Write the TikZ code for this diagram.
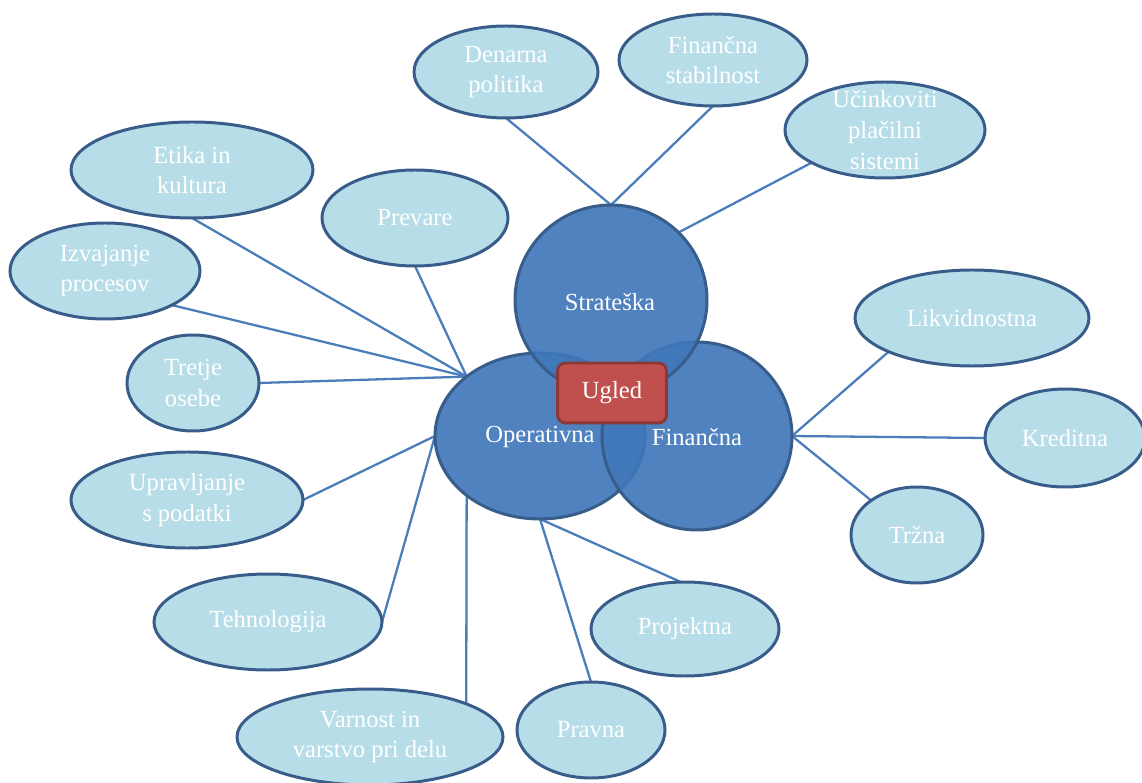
\documentclass[tikz,border=0pt]{standalone}
\usepackage{fontspec}
\setmainfont{Liberation Serif}
\usetikzlibrary{shapes.geometric,backgrounds}
\definecolor{riskfill}{HTML}{4077B8}
\definecolor{riskedge}{HTML}{385D8A}
\definecolor{leaffill}{HTML}{B7DDE8}
\definecolor{linkblue}{HTML}{4A7EBB}
\definecolor{ugledfill}{HTML}{C0504D}
\definecolor{uglededge}{HTML}{8C3836}
\begin{document}
\begin{tikzpicture}[x=0.02cm,y=-0.02cm,
  font=\fontsize{14pt}{17.5pt}\selectfont,
  oval/.style 2 args={ellipse, inner sep=0pt, outer sep=0pt,
    minimum width=2*#1*0.02cm, minimum height=2*#2*0.02cm},
  leaf/.style 2 args={oval={#1}{#2}, draw=riskedge, line width=1.7pt, fill=leaffill},
  area/.style 2 args={oval={#1}{#2}, draw=riskedge, line width=1.7pt,
    fill=riskfill, fill opacity=0.92, text opacity=1, text=white},
  txt/.style={label={[text=white, align=center]center:#1}},
  link/.style={draw=linkblue, line width=1.3pt}]
\useasboundingbox (0,0) rectangle (1142,783);

% the three main risk areas
\node[area={105}{83}] (op) at (540,436) {};
\node[area={95}{94}] (fin) at (697,436) {};
\node[area={96}{95}] (str) at (611,300) {};
\node[text=white] at (540,437) {Operativna};
\node[text=white] at (697,437) {Finančna};
\node[text=white] at (610,302) {Strateška};
\node[draw=uglededge, fill=ugledfill, line width=1.7pt, rounded corners=0.16cm,
  minimum width=2.18cm, minimum height=1.2cm, inner sep=0pt, text=white]
  (ugled) at (612,393) {Ugled};

% sub-risks
\node[leaf={92}{46}, txt={Denarna\\politika}] (den) at (506,72) {};
\node[leaf={94}{46}, txt={Finančna\\stabilnost}] (fst) at (713,60) {};
\node[leaf={100}{48}, txt={Učinkoviti\\plačilni\\sistemi}] (uc) at (885,130) {};
\node[leaf={121}{48}, txt={Etika in\\kultura}] (eti) at (192,170) {};
\node[leaf={93}{48}, txt={Prevare}] (prev) at (415,218) {};
\node[leaf={95}{48}, txt={Izvajanje\\procesov}] (izv) at (105,271) {};
\node[leaf={66}{48}, txt={Tretje\\osebe}] (tre) at (193,383) {};
\node[leaf={116}{48}, txt={Upravljanje\\s podatki}] (upr) at (187,500) {};
\node[leaf={114}{48}, txt={Tehnologija}] (teh) at (268,622) {};
\node[leaf={133}{48}, txt={Varnost in\\varstvo pri delu}] (var) at (370,737) {};
\node[leaf={74}{48}, txt={Pravna}] (prav) at (591,730) {};
\node[leaf={94}{47}, txt={Projektna}] (proj) at (685,629) {};
\node[leaf={66}{48}, txt={Tržna}] (trz) at (917,535) {};
\node[leaf={80}{49}, txt={Kreditna}] (kre) at (1065,438) {};
\node[leaf={117}{48}, txt={Likvidnostna}] (lik) at (972,318) {};

% connectors
\begin{scope}[on background layer]
\draw[link] (str.north) -- (den.south);
\draw[link] (str.north) -- (fst.south);
\draw[link] (str.45) -- (uc.204);
\draw[link] (op.141) -- (eti.south);
\draw[link] (op.141) -- (prev.south);
\draw[link] (op.141) -- (izv.-27);
\draw[link] (op.141) -- (tre.east);
\draw[link] (op.west) -- (upr.east);
\draw[link] (op.west) -- (teh.east);
\draw[link] (op.219) -- (var.19);
\draw[link] (op.south) -- (prav.north);
\draw[link] (op.south) -- (proj.95);
\draw[link] (fin.east) -- (lik.202);
\draw[link] (fin.east) -- (kre.west);
\draw[link] (fin.east) -- (trz.143);
\end{scope}
\end{tikzpicture}
\end{document}
